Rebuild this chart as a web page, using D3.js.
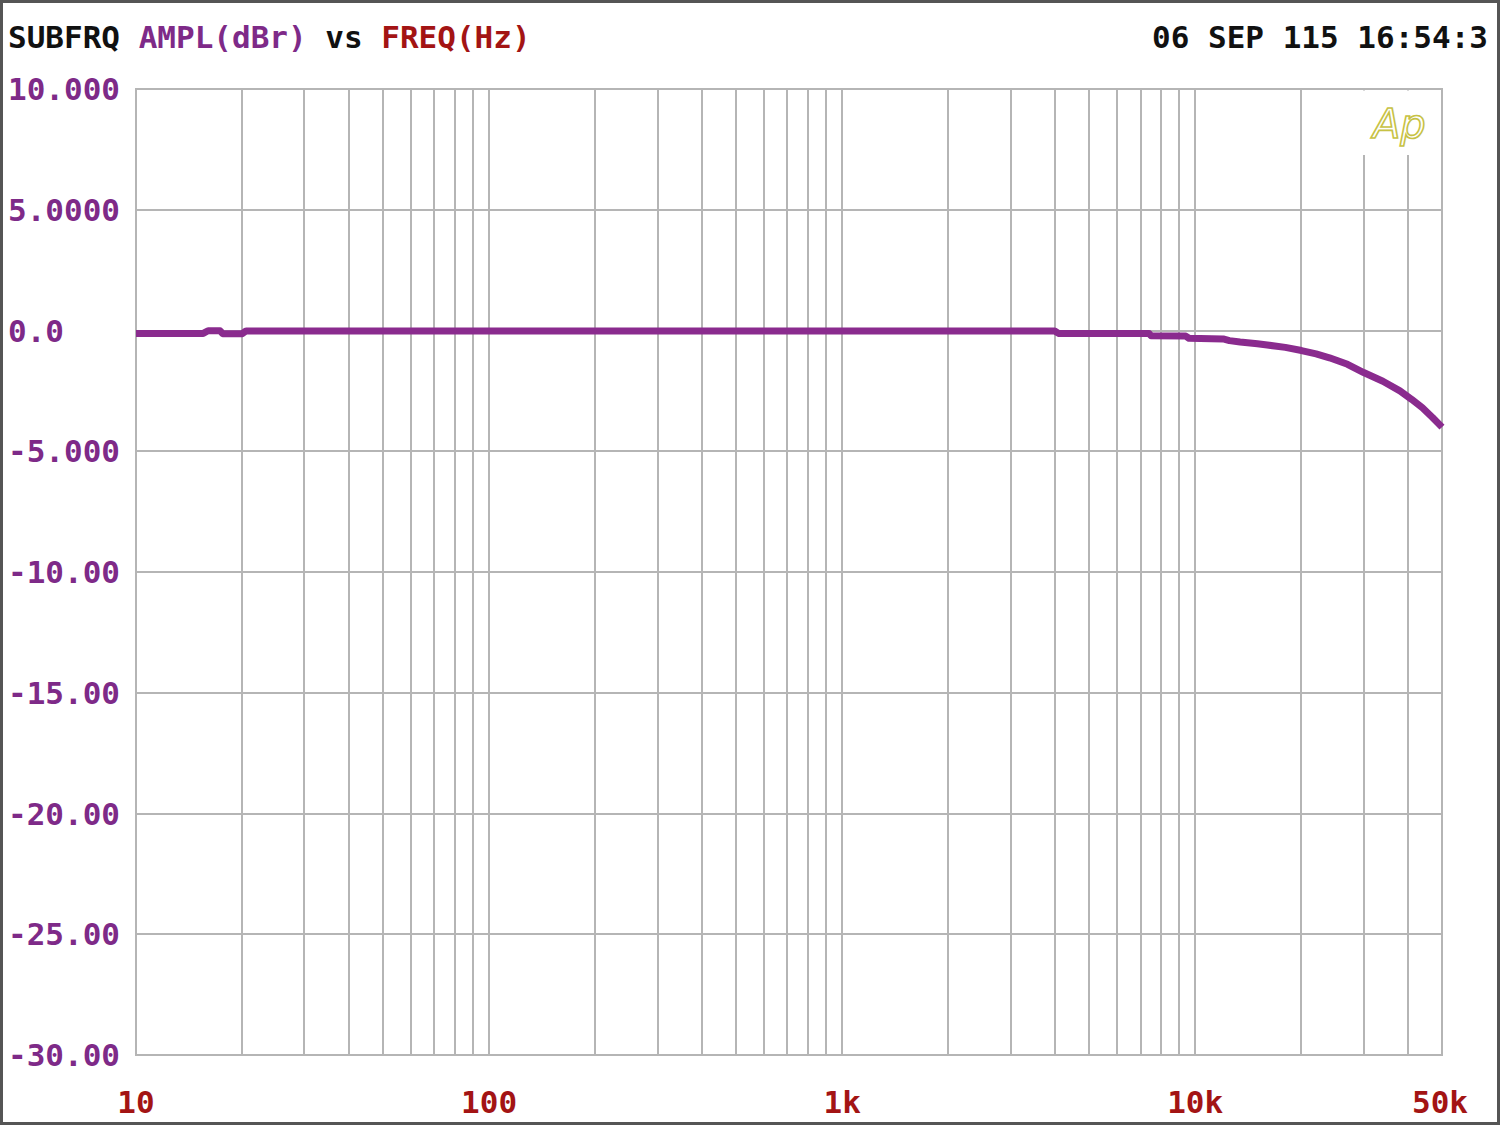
<!DOCTYPE html>
<html>
<head>
<meta charset="utf-8">
<script src="https://cdn.jsdelivr.net/npm/d3@7"></script>
<style>
html,body{margin:0;padding:0;background:#fff;}
svg{display:block;}
</style>
</head>
<body>
<svg id="chart" width="1500" height="1125"></svg>
<script>
// ---- data ----
const freqHz = [10, 12, 15.5, 16, 17.3, 17.6, 20, 20.5, 50, 100, 500, 1000, 2000, 4000, 4100, 6000, 7400, 7500, 9400, 9600, 12000, 12500, 13400, 15000, 16000, 18000, 20000, 22000, 24000, 27000, 30000, 34000, 38000, 41000, 44000, 47000, 50000];
const amplDbr = [-0.12, -0.12, -0.12, -0.01, -0.01, -0.13, -0.13, -0.02, -0.02, -0.02, -0.02, -0.02, -0.02, -0.02, -0.12, -0.12, -0.12, -0.22, -0.23, -0.32, -0.35, -0.42, -0.48, -0.55, -0.60, -0.70, -0.83, -0.97, -1.13, -1.40, -1.74, -2.10, -2.50, -2.85, -3.20, -3.60, -4.00];
const yTickValues = [10, 5, 0, -5, -10, -15, -20, -25, -30];
const yTickLabels = ["10.000", "5.0000", "0.0", "-5.000", "-10.00", "-15.00", "-20.00", "-25.00", "-30.00"];
const xTickValues = [10, 100, 1000, 10000, 50000];
const xTickLabels = ["10", "100", "1k", "10k", "50k"];
const titleParts = [["SUBFRQ ", "#111"], ["AMPL(dBr)", "#7e2a88"], [" vs ", "#111"], ["FREQ(Hz)", "#a31414"]];
const dateText = "06 SEP 115 16:54:3";

// ---- chart ----
(function () {
const svg = d3.select("#chart");
const W = 1500, H = 1125;
const pL = 136, pR = 1442, pT = 89, pB = 1055;
const x = d3.scaleLog().domain([10, 50000]).range([pL, pR]);
const y = d3.scaleLinear().domain([-30, 10]).range([pB, pT]);
const font = "'DejaVu Sans Mono', 'Liberation Mono', monospace";

svg.append("rect").attr("x", 0).attr("y", 0).attr("width", W).attr("height", H).attr("fill", "#fff");

// grid
const grid = svg.append("g").attr("stroke", "#b5b5b5").attr("stroke-width", 2);
const xGrid = x.ticks().filter(v => v >= 10 && v <= 50000);
grid.selectAll("line.v").data(xGrid).join("line").attr("class", "v")
  .attr("x1", d => Math.round(x(d))).attr("x2", d => Math.round(x(d)))
  .attr("y1", pT).attr("y2", pB);
grid.selectAll("line.h").data(yTickValues).join("line").attr("class", "h")
  .attr("x1", pL).attr("x2", pR)
  .attr("y1", d => Math.round(y(d))).attr("y2", d => Math.round(y(d)));
svg.append("rect").attr("x", pL).attr("y", pT).attr("width", pR - pL).attr("height", pB - pT)
  .attr("fill", "none").attr("stroke", "#b5b5b5").attr("stroke-width", 2);

// logo area blank
svg.append("rect").attr("x", 1350).attr("y", pT + 1.5).attr("width", pR - 1350 - 1.5).attr("height", 155 - pT - 1.5).attr("fill", "#fff");
svg.append("text").attr("x", 1373).attr("y", 138)
  .attr("font-family", "'DejaVu Sans', sans-serif").attr("font-style", "italic")
  .attr("font-size", 40).attr("fill", "none").attr("stroke", "#c7c245").attr("stroke-width", 1.6)
  .text("Ap");

// curve
const line = d3.line().x(d => x(d[0])).y(d => y(d[1]));
svg.append("path").datum(freqHz.map((f, i) => [f, amplDbr[i]]))
  .attr("d", line).attr("fill", "none").attr("stroke", "#8a2b8e")
  .attr("stroke-width", 7).attr("stroke-linejoin", "round").attr("stroke-linecap", "butt");

// title
const t = svg.append("text").attr("x", 8).attr("y", 48).attr("font-family", font)
  .attr("font-weight", "bold").attr("font-size", 31).attr("xml:space", "preserve");
titleParts.forEach(p => t.append("tspan").attr("fill", p[1]).text(p[0]));
svg.append("text").attr("x", 1488).attr("y", 48).attr("text-anchor", "end")
  .attr("font-family", font).attr("font-weight", "bold").attr("font-size", 31).attr("fill", "#111")
  .text(dateText);

// y labels
svg.append("g").selectAll("text").data(yTickValues).join("text")
  .attr("x", 8).attr("y", d => y(d) + 11)
  .attr("font-family", font).attr("font-weight", "bold").attr("font-size", 31).attr("fill", "#7e2a88")
  .text((d, i) => yTickLabels[i]);

// x labels
svg.append("g").selectAll("text").data(xTickValues).join("text")
  .attr("x", d => d === 50000 ? x(d) - 2 : x(d)).attr("y", 1113).attr("text-anchor", "middle")
  .attr("font-family", font).attr("font-weight", "bold").attr("font-size", 31).attr("fill", "#a31414")
  .text((d, i) => xTickLabels[i]);

// outer frame
svg.append("rect").attr("x", 1.5).attr("y", 1.5).attr("width", W - 3).attr("height", H - 3)
  .attr("fill", "none").attr("stroke", "#555").attr("stroke-width", 3);
})();
</script>
</body>
</html>
